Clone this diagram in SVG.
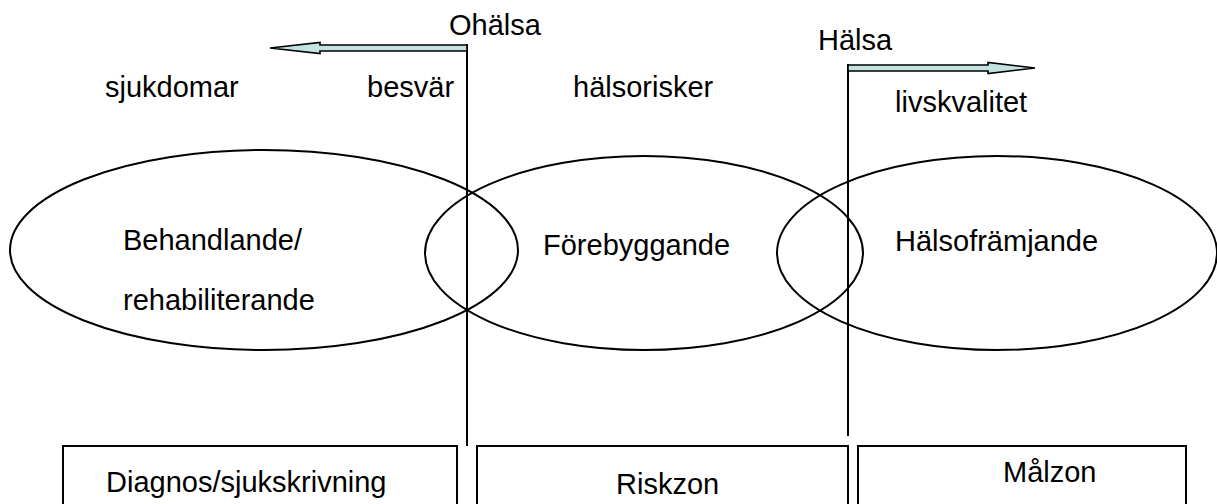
<svg xmlns="http://www.w3.org/2000/svg" width="1217" height="504" viewBox="0 0 1217 504">
<style>
text{font-family:"Liberation Sans",Arial,sans-serif;font-size:29px;fill:#000}
.e{fill:none;stroke:#000;stroke-width:2}
.b{fill:#fff;stroke:#000;stroke-width:2}
.l{stroke:#000;stroke-width:2;fill:none}
.ar{fill:#c3e3e3;stroke:#000;stroke-width:1.6;stroke-linejoin:miter}
</style>
<rect width="1217" height="504" fill="#fff"/>
<g id="ellipses">
<g id="behandlande"><ellipse class="e" cx="264" cy="250" rx="254" ry="100"/>
<text x="123" y="250">Behandlande/</text><text x="123" y="310">rehabiliterande</text></g>
<g id="forebyggande"><ellipse class="e" cx="644" cy="253" rx="219" ry="97"/>
<text x="543" y="255">Förebyggande</text></g>
<g id="halsoframjande"><ellipse class="e" cx="997" cy="253" rx="220" ry="97"/>
<text x="895" y="251">Hälsofrämjande</text></g>
</g>
<g id="connectors">
<line class="l" x1="467" y1="44" x2="467" y2="446"/>
<line class="l" x1="848" y1="64" x2="848" y2="436"/>
<polygon class="ar" points="467,45 320,45 320,42.5 270,48 320,53.5 320,51 467,51"/>
<polygon class="ar" points="848,65 988,65 988,62.5 1035,68 988,73.5 988,71 848,71"/>
</g>
<g id="labels">
<text x="449" y="35">Ohälsa</text>
<text x="818" y="50">Hälsa</text>
<text x="105" y="97">sjukdomar</text>
<text x="367" y="97">besvär</text>
<text x="573" y="97">hälsorisker</text>
<text x="895" y="112">livskvalitet</text>
</g>
<g id="diagnos"><rect class="b" x="63" y="446" width="394" height="70"/><text x="106" y="492">Diagnos/sjukskrivning</text></g>
<g id="riskzon"><rect class="b" x="477" y="446" width="371" height="70"/><text x="616" y="494">Riskzon</text></g>
<g id="malzon"><rect class="b" x="858" y="446" width="328" height="70"/><text x="1003" y="482">Målzon</text></g>
</svg>
